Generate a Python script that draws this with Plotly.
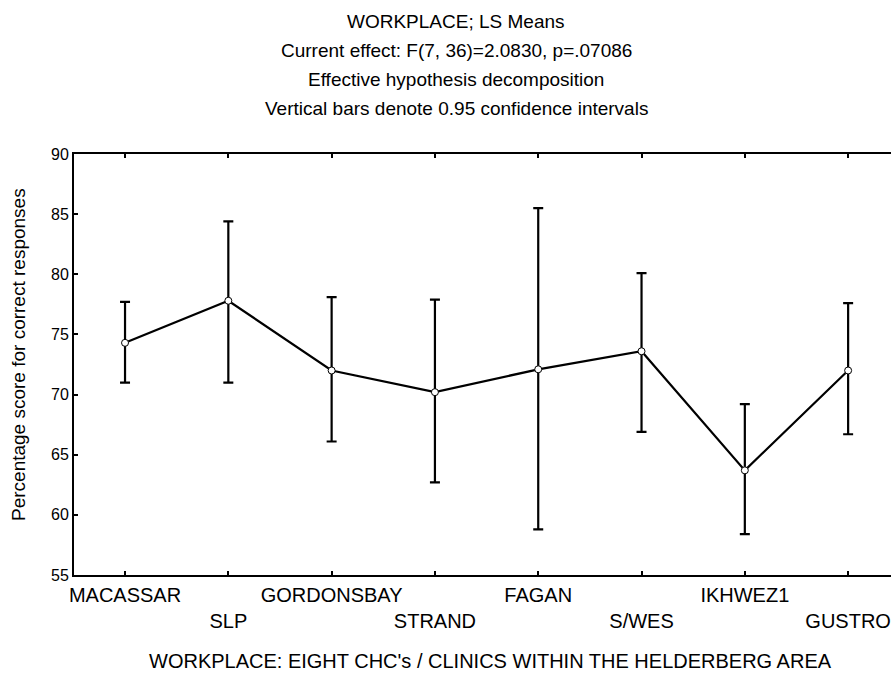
import plotly.graph_objects as go

# Workplace LS means with 95% confidence limits
workplaces = ["MACASSAR", "SLP", "GORDONSBAY", "STRAND", "FAGAN", "S/WES", "IKHWEZ1", "GUSTRO"]
ls_means = [74.3, 77.8, 72.0, 70.2, 72.1, 73.6, 63.7, 72.0]
ci_upper = [77.7, 84.4, 78.1, 77.9, 85.5, 80.1, 69.2, 77.6]
ci_lower = [71.0, 71.0, 66.1, 62.7, 58.8, 66.9, 58.4, 66.7]
y_ticks = [55, 60, 65, 70, 75, 80, 85, 90]

x_pos = list(range(len(workplaces)))
err_plus = [u - m for u, m in zip(ci_upper, ls_means)]
err_minus = [m - l for m, l in zip(ls_means, ci_lower)]

# stagger category labels on two rows
tick_text = [w if i % 2 == 0 else "<br>" + w for i, w in enumerate(workplaces)]

FONT = "Liberation Sans, Arial, sans-serif"

fig = go.Figure()
fig.add_trace(go.Scatter(
    x=x_pos, y=ls_means,
    mode="lines+markers",
    line=dict(color="black", width=2.2),
    marker=dict(symbol="circle", size=7, color="white",
                line=dict(color="black", width=1)),
    error_y=dict(type="data", symmetric=False, array=err_plus, arrayminus=err_minus,
                 color="black", thickness=2.2, width=5),
    showlegend=False,
))

fig.update_layout(
    width=891, height=674,
    paper_bgcolor="white", plot_bgcolor="white",
    margin=dict(l=74, r=0, t=154, b=99),
    font=dict(family=FONT, color="black"),
    xaxis=dict(
        range=[-0.494, 7.415],
        tickmode="array", tickvals=x_pos, ticktext=tick_text,
        tickangle=0,
        ticks="inside", ticklen=4, tickwidth=1.5, tickcolor="black",
        showline=True, linecolor="black", linewidth=2, mirror="ticks",
        showgrid=False, zeroline=False,
        tickfont=dict(size=20, family=FONT),
        ticklabelstandoff=1,
    ),
    yaxis=dict(
        range=[55, 90],
        tickmode="array", tickvals=y_ticks,
        ticks="inside", ticklen=4, tickwidth=1.5, tickcolor="black",
        showline=True, linecolor="black", linewidth=2,
        showgrid=False, zeroline=False,
        tickfont=dict(size=16, family=FONT),
    ),
)

title_lines = [
    "WORKPLACE; LS Means",
    "Current effect: F(7, 36)=2.0830, p=.07086",
    "Effective hypothesis decomposition",
    "Vertical bars denote 0.95 confidence intervals",
]
title_px = [21, 50, 79, 108]
plot_top, plot_h, plot_left, plot_w = 154, 421, 74, 817
for txt, py in zip(title_lines, title_px):
    fig.add_annotation(
        text=txt, xref="paper", yref="paper",
        x=(456 - plot_left) / plot_w, y=(plot_top + plot_h - py) / plot_h,
        xanchor="center", yanchor="middle", showarrow=False,
        font=dict(size=19, family=FONT),
    )

fig.add_annotation(
    text="WORKPLACE: EIGHT CHC's / CLINICS WITHIN THE HELDERBERG AREA",
    xref="paper", yref="paper",
    x=(490 - plot_left) / plot_w, y=(plot_top + plot_h - 661) / plot_h,
    xanchor="center", yanchor="middle", showarrow=False,
    font=dict(size=20, family=FONT),
)
fig.add_annotation(
    text="Percentage score for correct responses",
    xref="paper", yref="paper",
    x=(18 - plot_left) / plot_w, y=(plot_top + plot_h - 355) / plot_h,
    xanchor="center", yanchor="middle", showarrow=False, textangle=-90,
    font=dict(size=19, family=FONT),
)

fig.write_html("out.html")
